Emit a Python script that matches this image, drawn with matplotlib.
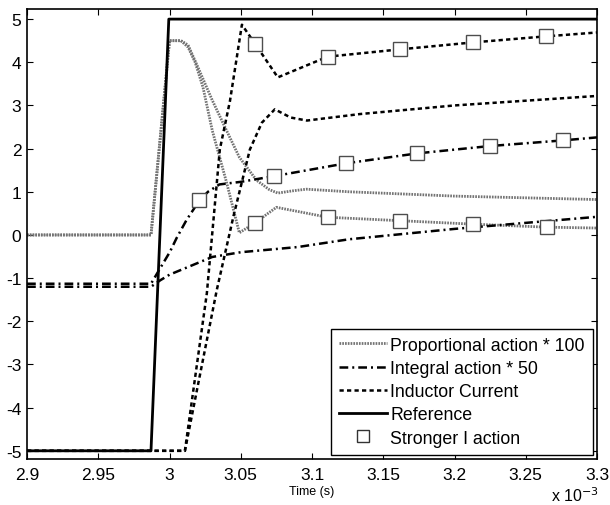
import numpy as np
import matplotlib
matplotlib.use("Agg")
import matplotlib.pyplot as plt
from matplotlib.lines import Line2D

plt.rcParams['font.family'] = ['Liberation Sans', 'DejaVu Sans']
plt.rcParams['axes.unicode_minus'] = False

# tiempos en unidades de 1e-3 s
ref_t = [2.9, 2.987, 2.9995, 3.3]
ref_y = [-5, -5, 5, 5]

prop_t = [2.9, 2.987, 3.0, 3.008, 3.013, 3.02, 3.03, 3.04, 3.049, 3.061, 3.07, 3.076,
          3.086, 3.096, 3.126, 3.2, 3.3]
prop_y = [0, 0, 4.5, 4.5, 4.4, 3.88, 3.12, 2.42, 1.8, 1.27, 1.05, 0.97,
          1.02, 1.06, 1.0, 0.9, 0.82]

prop2_t = [2.9, 2.987, 3.0, 3.008, 3.013, 3.018, 3.0235, 3.03, 3.04, 3.049, 3.06, 3.075,
           3.111, 3.162, 3.213, 3.265, 3.3]
prop2_y = [0, 0, 4.5, 4.5, 4.35, 4.0, 3.42, 2.42, 1.22, 0.05, 0.28, 0.64,
           0.41, 0.33, 0.25, 0.18, 0.16]

int_t = [2.9, 2.987, 2.9935, 3.0, 3.03, 3.05, 3.09, 3.126, 3.2, 3.25, 3.3]
int_y = [-1.2, -1.2, -1.05, -0.92, -0.51, -0.4, -0.28, -0.1, 0.14, 0.28, 0.42]

int2_t = [2.9, 2.987, 3.0003, 3.005, 3.012, 3.021, 3.027, 3.035, 3.05, 3.073,
          3.124, 3.174, 3.225, 3.276, 3.3]
int2_y = [-1.13, -1.13, -0.39, -0.07, 0.35, 0.8, 1.0, 1.17, 1.23, 1.36,
          1.66, 1.89, 2.06, 2.19, 2.26]

ind_t = [2.9, 3.0108, 3.0332, 3.045, 3.0564, 3.0648, 3.0739, 3.085, 3.0964,
         3.1335, 3.2, 3.3]
ind_y = [-5, -5, -1.27, 0.45, 1.98, 2.6, 2.91, 2.72, 2.65, 2.8, 3.0, 3.22]

ind2_t = [2.9, 3.0108, 3.0262, 3.0353, 3.0424, 3.0508, 3.06, 3.076, 3.111,
          3.162, 3.213, 3.264, 3.3]
ind2_y = [-5, -5, -1.35, 1.98, 3.1, 4.87, 4.43, 3.65, 4.13, 4.3, 4.46, 4.6, 4.69]

# marcadores "Stronger I action"
mk_int_t = [3.021, 3.073, 3.124, 3.174, 3.225, 3.276]
mk_int_y = [0.8, 1.36, 1.66, 1.89, 2.06, 2.19]
mk_ind_t = [3.06, 3.111, 3.162, 3.213, 3.264]
mk_ind_y = [4.43, 4.13, 4.3, 4.46, 4.6]
mk_prop_t = [3.06, 3.111, 3.162, 3.213, 3.265]
mk_prop_y = [0.28, 0.41, 0.33, 0.25, 0.18]

x_ticks = [2.9, 2.95, 3.0, 3.05, 3.1, 3.15, 3.2, 3.25, 3.3]
y_ticks = list(range(-5, 6))

fig = plt.figure(figsize=(6.1, 5.06), dpi=100)
ax = fig.add_axes([0.0443, 0.0909, 0.9344, 0.889])

prop_style = dict(color='0.45', lw=2.0, ls=(0, (0.6, 0.4)))
int_style = dict(color='black', lw=1.8, ls=(0, (3.5, 1.6, 0.8, 1.6)))
ind_style = dict(color='black', lw=1.8, ls=(0, (1.7, 1.3)))
ref_style = dict(color='black', lw=2.0, ls='-')
mk_style = dict(ls='none', marker='s', ms=9.5, mfc='white', mec='0.3', mew=1.0)

ax.plot(prop_t, prop_y, **prop_style)
ax.plot(prop2_t, prop2_y, **prop_style)
ax.plot(int_t, int_y, **int_style)
ax.plot(int2_t, int2_y, **int_style)
ax.plot(ind_t, ind_y, **ind_style)
ax.plot(ind2_t, ind2_y, **ind_style)
ax.plot(ref_t, ref_y, **ref_style)
ax.plot(mk_int_t, mk_int_y, **mk_style)
ax.plot(mk_ind_t, mk_ind_y, **mk_style)
ax.plot(mk_prop_t, mk_prop_y, **mk_style)

ax.set_xlim(2.9, 3.3)
ax.set_ylim(-5.19, 5.23)
ax.set_xticks(x_ticks)
ax.set_xticklabels([f"{v:g}" for v in x_ticks])
ax.set_yticks(y_ticks)
ax.tick_params(direction='in', top=True, right=True, length=4, labelsize=12.5)
ax.tick_params(axis='x', pad=6)
ax.tick_params(axis='y', pad=4)
for s in ax.spines.values():
    s.set_linewidth(1.2)

ax.set_xlabel("Time (s)", fontsize=9, labelpad=2)
fig.text(0.982, 0.002, r"x 10$^{-3}$", ha='right', va='bottom', fontsize=11.5)

handles = [
    Line2D([], [], **prop_style),
    Line2D([], [], **int_style),
    Line2D([], [], **ind_style),
    Line2D([], [], **ref_style),
    Line2D([], [], ls='none', marker='s', ms=9, mfc='white', mec='0.2', mew=1.0),
]
labels = ["Proportional action * 100", "Integral action * 50", "Inductor Current",
          "Reference", "Stronger I action"]
leg = ax.legend(handles, labels, loc='lower right', fontsize=12.8, frameon=True,
                fancybox=False, edgecolor='black', framealpha=1,
                handlelength=2.7, handletextpad=0.2, labelspacing=0.35,
                borderpad=0.45, borderaxespad=0.25)
leg.get_frame().set_linewidth(1.0)

fig.savefig("out.png", dpi=100)
